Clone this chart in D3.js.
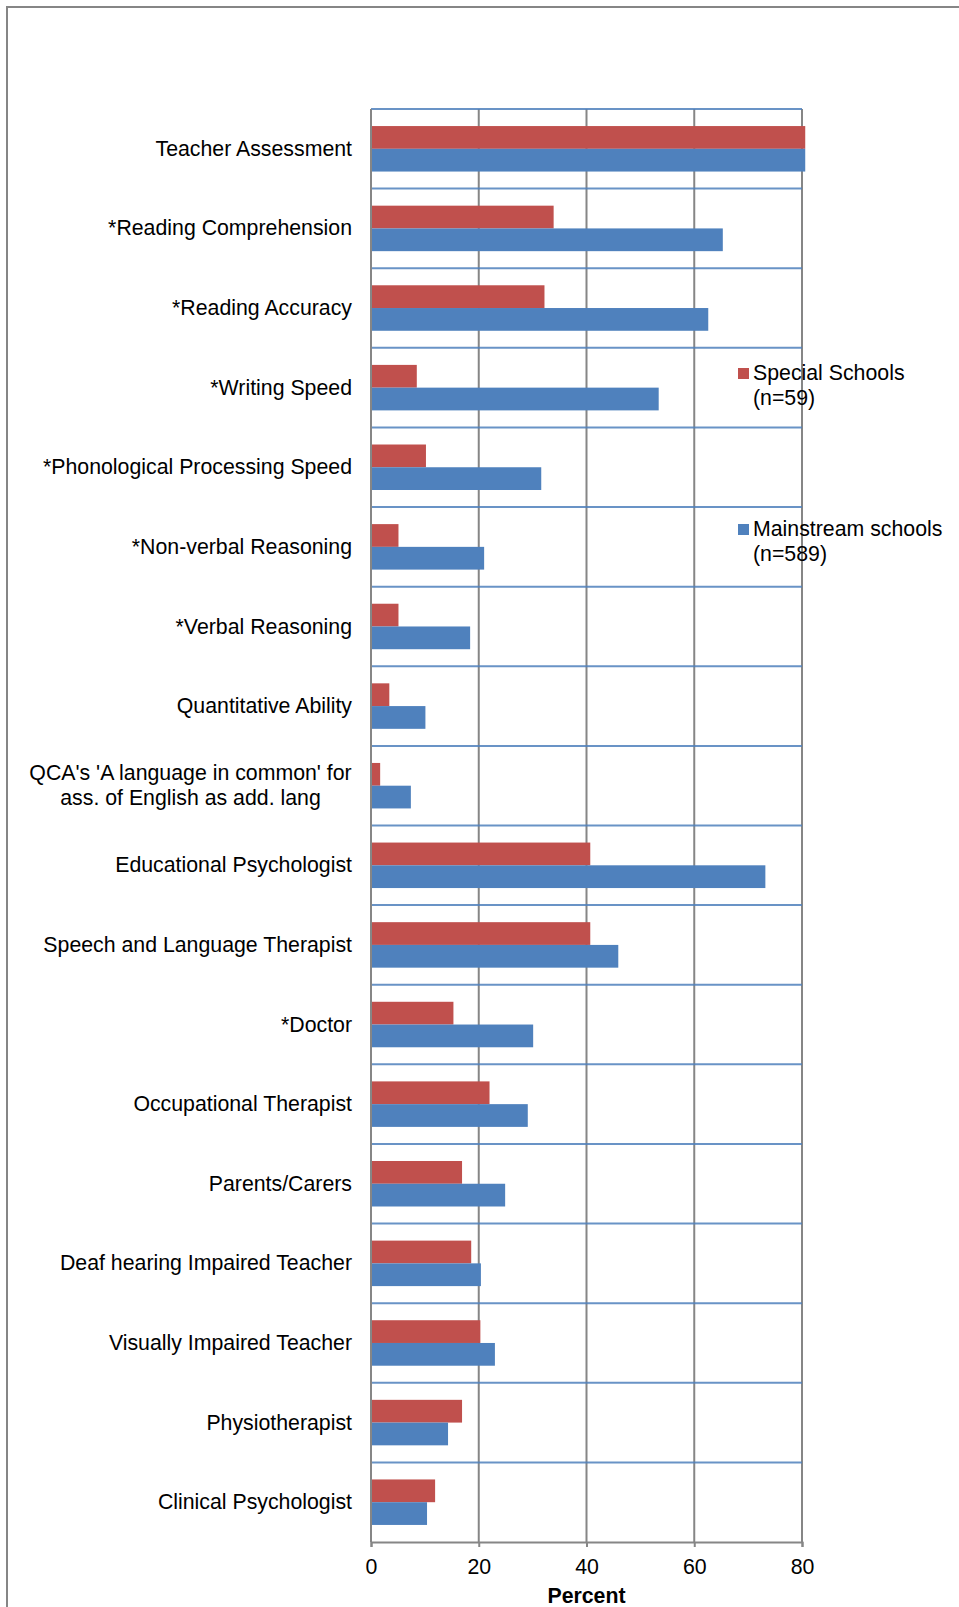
<!DOCTYPE html>
<html>
<head>
<meta charset="utf-8">
<script src="https://cdn.jsdelivr.net/npm/d3@7"></script>
<style>
  body { margin: 0; background: #fff; }
  svg { display: block; font-family: Arial, "Liberation Sans", sans-serif; }
</style>
</head>
<body>
<svg id="chart" width="959" height="1607"></svg>
<script>
const categories = [
  "Teacher Assessment",
  "*Reading Comprehension",
  "*Reading Accuracy",
  "*Writing Speed",
  "*Phonological Processing Speed",
  "*Non-verbal Reasoning",
  "*Verbal Reasoning",
  "Quantitative Ability",
  "QCA's 'A language in common' for\nass. of English as add. lang",
  "Educational Psychologist",
  "Speech and Language Therapist",
  "*Doctor",
  "Occupational Therapist",
  "Parents/Carers",
  "Deaf hearing Impaired Teacher",
  "Visually Impaired Teacher",
  "Physiotherapist",
  "Clinical Psychologist"
];
const specialSchools = [80.6, 33.9, 32.2, 8.5, 10.2, 5.1, 5.1, 3.4, 1.7, 40.7, 40.7, 15.3, 22.0, 16.9, 18.6, 20.3, 16.9, 11.9];
const mainstreamSchools = [80.6, 65.3, 62.6, 53.4, 31.6, 21.0, 18.4, 10.1, 7.4, 73.2, 45.9, 30.1, 29.1, 24.9, 20.4, 23.0, 14.3, 10.4];
const seriesNames = [["Special Schools", "(n=59)"], ["Mainstream schools", "(n=589)"]];
const xTicks = [0, 20, 40, 60, 80];
const axisTitle = "Percent";

const colors = ["#C0504D", "#4F81BD"];
const gridColor = "#868686";
const sepColor = "#4F81BD";
const fs = 21.3;

const svg = d3.select("#chart");

// outer border
svg.append("rect")
  .attr("x", 7).attr("y", 7).attr("width", 1000).attr("height", 1700)
  .attr("fill", "none").attr("stroke", gridColor).attr("stroke-width", 2);

const plotLeft = 371, plotRight = 802, plotTop = 109, plotBottom = 1542;
const x = d3.scaleLinear().domain([0, 80]).range([plotLeft, plotRight]);
const y = d3.scaleBand().domain(categories).range([plotTop, plotBottom]).padding(0);
const bw = y.bandwidth();
const barH = bw / 3.5;

// vertical gridlines
svg.append("g").selectAll("line").data(xTicks).join("line")
  .attr("x1", d => x(d)).attr("x2", d => x(d))
  .attr("y1", plotTop).attr("y2", plotBottom)
  .attr("stroke", gridColor).attr("stroke-width", 2);

// horizontal band separators
const seps = categories.map(c => y(c));
svg.append("g").selectAll("line").data(seps).join("line")
  .attr("x1", plotLeft).attr("x2", plotRight)
  .attr("y1", d => d).attr("y2", d => d)
  .attr("stroke", sepColor).attr("stroke-width", 2).attr("opacity", 0.85);

// bars
const series = [specialSchools, mainstreamSchools];
series.forEach((vals, si) => {
  svg.append("g").selectAll("rect").data(vals).join("rect")
    .attr("x", x(0))
    .attr("y", (d, i) => y(categories[i]) + (bw - 2 * barH) / 2 + si * barH)
    .attr("width", d => x(d) - x(0))
    .attr("height", barH)
    .attr("fill", colors[si]);
});

// axis lines
svg.append("line").attr("x1", plotLeft).attr("x2", plotLeft).attr("y1", plotTop).attr("y2", plotBottom)
  .attr("stroke", gridColor).attr("stroke-width", 2);
const xAxis = d3.axisBottom(x).tickValues(xTicks).tickSize(5).tickPadding(12).tickFormat(d3.format("d"));
const gx = svg.append("g").attr("transform", `translate(0,${plotBottom})`).call(xAxis);
gx.select(".domain").attr("stroke", gridColor).attr("stroke-width", 2);
gx.selectAll(".tick line").attr("stroke", gridColor).attr("stroke-width", 2);
gx.selectAll(".tick text").attr("font-size", fs).attr("fill", "#000")
  .attr("font-family", "Arial, 'Liberation Sans', sans-serif").attr("dy", "0.71em");

svg.append("text").attr("x", (plotLeft + plotRight) / 2).attr("y", 1603)
  .attr("text-anchor", "middle").attr("font-size", fs).attr("font-weight", "bold")
  .text(axisTitle);

// category labels
const labels = svg.append("g").selectAll("text").data(categories).join("text")
  .attr("font-size", fs).attr("fill", "#000");
labels.each(function(d) {
  const lines = d.split("\n");
  const t = d3.select(this);
  const cy = y(d) + bw / 2;
  const lh = 25;
  if (lines.length === 1) {
    t.attr("x", 352).attr("y", cy).attr("dy", "0.33em").attr("text-anchor", "end").text(d);
  } else {
    const cx = 190.5;
    t.attr("text-anchor", "middle");
    lines.forEach((ln, k) => {
      t.append("tspan").attr("x", cx)
        .attr("y", cy + (k - (lines.length - 1) / 2) * lh)
        .attr("dy", "0.33em").text(ln);
    });
  }
});

// legend
const legendY = [368, 524];
seriesNames.forEach((nm, i) => {
  const g = svg.append("g");
  g.append("rect").attr("x", 738).attr("y", legendY[i]).attr("width", 11).attr("height", 11)
    .attr("fill", colors[i]);
  nm.forEach((ln, k) => {
    g.append("text").attr("x", 753).attr("y", legendY[i] + 11.5 + k * 25.5)
      .attr("font-size", fs).attr("fill", "#000").text(ln);
  });
});
</script>
</body>
</html>
